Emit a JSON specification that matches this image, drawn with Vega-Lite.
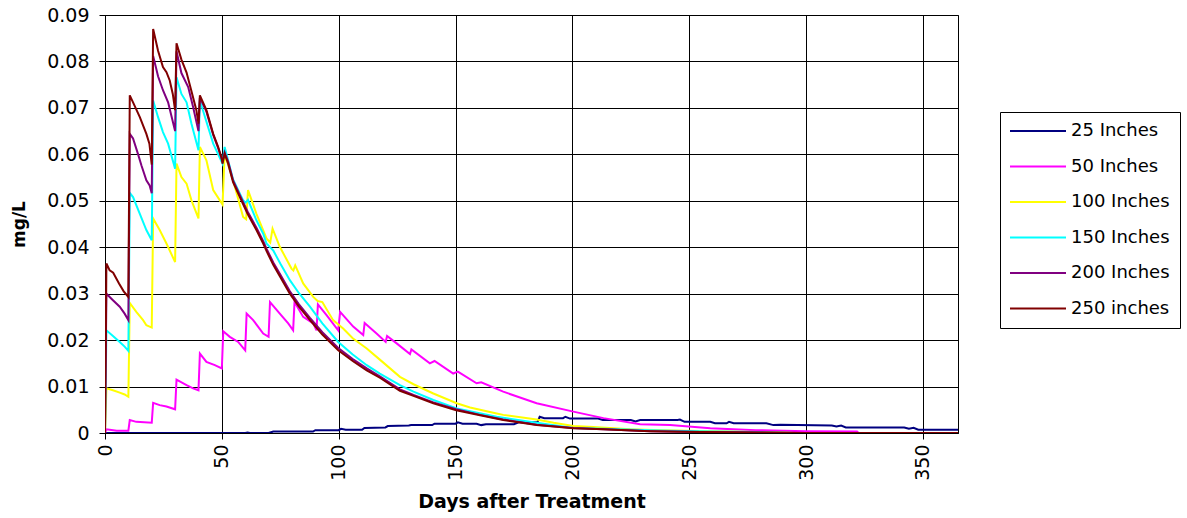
{
  "$schema": "https://vega.github.io/schema/vega-lite/v6.json",
  "width": 853,
  "height": 418,
  "autosize": "none",
  "padding": {"left": 105, "top": 15, "right": 229, "bottom": 85},
  "background": "white",
  "config": {"font": "DejaVu Sans", "view": {"stroke": "#000", "strokeWidth": 1}},
  "data": {"values": [
    {"s":"25 Inches","d":0,"v":0},{"s":"25 Inches","d":60,"v":0},{"s":"25 Inches","d":61,"v":0.0001},{"s":"25 Inches","d":62,"v":0},{"s":"25 Inches","d":70,"v":0},{"s":"25 Inches","d":72,"v":0.0003},{"s":"25 Inches","d":89,"v":0.0003},{"s":"25 Inches","d":90,"v":0.0006},{"s":"25 Inches","d":100,"v":0.0006},{"s":"25 Inches","d":101,"v":0.0009},{"s":"25 Inches","d":103,"v":0.0007},{"s":"25 Inches","d":110,"v":0.0007},{"s":"25 Inches","d":111,"v":0.0011},{"s":"25 Inches","d":120,"v":0.0012},{"s":"25 Inches","d":121,"v":0.0015},{"s":"25 Inches","d":130,"v":0.0016},{"s":"25 Inches","d":131,"v":0.0017},{"s":"25 Inches","d":140,"v":0.0017},{"s":"25 Inches","d":141,"v":0.002},{"s":"25 Inches","d":150,"v":0.002},{"s":"25 Inches","d":151,"v":0.0023},{"s":"25 Inches","d":153,"v":0.002},{"s":"25 Inches","d":159,"v":0.002},{"s":"25 Inches","d":161,"v":0.0017},{"s":"25 Inches","d":163,"v":0.0019},{"s":"25 Inches","d":175,"v":0.0019},{"s":"25 Inches","d":177,"v":0.0023},{"s":"25 Inches","d":185,"v":0.0023},{"s":"25 Inches","d":186,"v":0.0035},{"s":"25 Inches","d":188,"v":0.0032},{"s":"25 Inches","d":196,"v":0.0032},{"s":"25 Inches","d":197,"v":0.0035},{"s":"25 Inches","d":199,"v":0.0031},{"s":"25 Inches","d":211,"v":0.0031},{"s":"25 Inches","d":213,"v":0.0028},{"s":"25 Inches","d":225,"v":0.0028},{"s":"25 Inches","d":227,"v":0.0025},{"s":"25 Inches","d":229,"v":0.0028},{"s":"25 Inches","d":245,"v":0.0028},{"s":"25 Inches","d":246,"v":0.0029},{"s":"25 Inches","d":248,"v":0.0024},{"s":"25 Inches","d":259,"v":0.0024},{"s":"25 Inches","d":261,"v":0.0021},{"s":"25 Inches","d":266,"v":0.0021},{"s":"25 Inches","d":267,"v":0.0024},{"s":"25 Inches","d":269,"v":0.0021},{"s":"25 Inches","d":283,"v":0.0021},{"s":"25 Inches","d":286,"v":0.0017},{"s":"25 Inches","d":289,"v":0.0018},{"s":"25 Inches","d":311,"v":0.0016},{"s":"25 Inches","d":313,"v":0.0014},{"s":"25 Inches","d":315,"v":0.0016},{"s":"25 Inches","d":317,"v":0.0012},{"s":"25 Inches","d":342,"v":0.0012},{"s":"25 Inches","d":344,"v":0.0009},{"s":"25 Inches","d":346,"v":0.0011},{"s":"25 Inches","d":348,"v":0.0007},{"s":"25 Inches","d":365,"v":0.0007},

    {"s":"50 Inches","d":0,"v":0},{"s":"50 Inches","d":0.6,"v":0.0008},{"s":"50 Inches","d":2,"v":0.0007},{"s":"50 Inches","d":5,"v":0.0005},{"s":"50 Inches","d":10,"v":0.0005},
    {"s":"50 Inches","d":10.6,"v":0.0028},{"s":"50 Inches","d":13.4,"v":0.0024},{"s":"50 Inches","d":20,"v":0.0022},
    {"s":"50 Inches","d":20.6,"v":0.0065},{"s":"50 Inches","d":23.4,"v":0.006},{"s":"50 Inches","d":26.3,"v":0.0057},{"s":"50 Inches","d":30,"v":0.0051},
    {"s":"50 Inches","d":30.6,"v":0.0115},{"s":"50 Inches","d":34.9,"v":0.0103},{"s":"50 Inches","d":37.7,"v":0.0096},{"s":"50 Inches","d":40,"v":0.0092},
    {"s":"50 Inches","d":40.6,"v":0.0171},{"s":"50 Inches","d":43.4,"v":0.0153},{"s":"50 Inches","d":47,"v":0.0146},{"s":"50 Inches","d":50,"v":0.0139},
    {"s":"50 Inches","d":50.6,"v":0.0219},{"s":"50 Inches","d":53.4,"v":0.0207},{"s":"50 Inches","d":57,"v":0.0196},{"s":"50 Inches","d":60,"v":0.0178},
    {"s":"50 Inches","d":60.6,"v":0.0257},{"s":"50 Inches","d":63.4,"v":0.0243},{"s":"50 Inches","d":67.7,"v":0.0214},{"s":"50 Inches","d":70,"v":0.0207},
    {"s":"50 Inches","d":70.6,"v":0.0282},{"s":"50 Inches","d":74.8,"v":0.0257},{"s":"50 Inches","d":78.4,"v":0.0236},{"s":"50 Inches","d":80.5,"v":0.0221},
    {"s":"50 Inches","d":81.1,"v":0.0282},{"s":"50 Inches","d":84.8,"v":0.025},{"s":"50 Inches","d":89.1,"v":0.0236},{"s":"50 Inches","d":90.5,"v":0.0221},
    {"s":"50 Inches","d":91.1,"v":0.0277},{"s":"50 Inches","d":94.8,"v":0.0254},{"s":"50 Inches","d":99.8,"v":0.0221},
    {"s":"50 Inches","d":100.6,"v":0.0261},{"s":"50 Inches","d":106.2,"v":0.0229},{"s":"50 Inches","d":110.5,"v":0.0211},
    {"s":"50 Inches","d":111.1,"v":0.0237},{"s":"50 Inches","d":116.2,"v":0.0214},{"s":"50 Inches","d":120.1,"v":0.0196},
    {"s":"50 Inches","d":120.7,"v":0.0209},{"s":"50 Inches","d":124.8,"v":0.0193},{"s":"50 Inches","d":130.5,"v":0.017},
    {"s":"50 Inches","d":131.1,"v":0.018},{"s":"50 Inches","d":139,"v":0.015},{"s":"50 Inches","d":141,"v":0.0155},{"s":"50 Inches","d":149,"v":0.0128},{"s":"50 Inches","d":151,"v":0.0132},{"s":"50 Inches","d":159,"v":0.0107},{"s":"50 Inches","d":161,"v":0.0109},{"s":"50 Inches","d":170.4,"v":0.0089},{"s":"50 Inches","d":184.7,"v":0.0064},{"s":"50 Inches","d":200.4,"v":0.0046},{"s":"50 Inches","d":213.3,"v":0.0032},{"s":"50 Inches","d":229,"v":0.0019},{"s":"50 Inches","d":241.8,"v":0.0017},{"s":"50 Inches","d":259,"v":0.001},{"s":"50 Inches","d":278.5,"v":0.0006},{"s":"50 Inches","d":300,"v":0.0004},{"s":"50 Inches","d":321.8,"v":0.0003},{"s":"50 Inches","d":322.5,"v":0},{"s":"50 Inches","d":365,"v":0},

    {"s":"100 Inches","d":0,"v":0},{"s":"100 Inches","d":0.6,"v":0.0096},{"s":"100 Inches","d":3.4,"v":0.0092},{"s":"100 Inches","d":6.3,"v":0.0087},{"s":"100 Inches","d":8.4,"v":0.0083},{"s":"100 Inches","d":10,"v":0.0078},
    {"s":"100 Inches","d":10.6,"v":0.028},{"s":"100 Inches","d":13.4,"v":0.0261},{"s":"100 Inches","d":16.3,"v":0.0243},{"s":"100 Inches","d":17.7,"v":0.0232},{"s":"100 Inches","d":20,"v":0.0227},
    {"s":"100 Inches","d":20.6,"v":0.0462},{"s":"100 Inches","d":23.4,"v":0.0437},{"s":"100 Inches","d":26.3,"v":0.0408},{"s":"100 Inches","d":30,"v":0.0368},
    {"s":"100 Inches","d":30.6,"v":0.058},{"s":"100 Inches","d":32.7,"v":0.0551},{"s":"100 Inches","d":34.9,"v":0.0537},{"s":"100 Inches","d":37,"v":0.0501},{"s":"100 Inches","d":40,"v":0.0462},
    {"s":"100 Inches","d":40.6,"v":0.0616},{"s":"100 Inches","d":43.4,"v":0.0587},{"s":"100 Inches","d":46.3,"v":0.0523},{"s":"100 Inches","d":50.3,"v":0.0492},
    {"s":"100 Inches","d":51.2,"v":0.0601},{"s":"100 Inches","d":54.8,"v":0.0544},{"s":"100 Inches","d":59.1,"v":0.0465},{"s":"100 Inches","d":60.4,"v":0.046},
    {"s":"100 Inches","d":61.2,"v":0.0523},{"s":"100 Inches","d":64.8,"v":0.0472},{"s":"100 Inches","d":69.1,"v":0.0419},{"s":"100 Inches","d":70.7,"v":0.041},
    {"s":"100 Inches","d":71.7,"v":0.044},{"s":"100 Inches","d":74.8,"v":0.0401},{"s":"100 Inches","d":79.8,"v":0.0354},{"s":"100 Inches","d":80.6,"v":0.035},
    {"s":"100 Inches","d":81.4,"v":0.0361},{"s":"100 Inches","d":84.8,"v":0.0322},{"s":"100 Inches","d":89.1,"v":0.0293},{"s":"100 Inches","d":91,"v":0.0284},{"s":"100 Inches","d":93,"v":0.0282},{"s":"100 Inches","d":97.6,"v":0.0243},{"s":"100 Inches","d":101.9,"v":0.0225},{"s":"100 Inches","d":106,"v":0.0204},{"s":"100 Inches","d":112,"v":0.0182},{"s":"100 Inches","d":117.6,"v":0.0158},{"s":"100 Inches","d":126.2,"v":0.0121},{"s":"100 Inches","d":132,"v":0.0105},{"s":"100 Inches","d":140.5,"v":0.0085},{"s":"100 Inches","d":150.5,"v":0.0064},{"s":"100 Inches","d":156.2,"v":0.0055},{"s":"100 Inches","d":167.6,"v":0.0042},{"s":"100 Inches","d":170.4,"v":0.0039},{"s":"100 Inches","d":184.7,"v":0.0029},{"s":"100 Inches","d":192,"v":0.0022},{"s":"100 Inches","d":200.4,"v":0.0015},{"s":"100 Inches","d":209,"v":0.0013},{"s":"100 Inches","d":224.7,"v":0.0008},{"s":"100 Inches","d":238,"v":0.0006},{"s":"100 Inches","d":260,"v":0.0004},{"s":"100 Inches","d":280,"v":0.0002},{"s":"100 Inches","d":290,"v":0.0001},{"s":"100 Inches","d":295,"v":0},{"s":"100 Inches","d":365,"v":0},

    {"s":"150 Inches","d":0,"v":0},{"s":"150 Inches","d":0.6,"v":0.0221},{"s":"150 Inches","d":3.4,"v":0.0209},{"s":"150 Inches","d":6.3,"v":0.0196},{"s":"150 Inches","d":8.4,"v":0.0186},{"s":"150 Inches","d":10,"v":0.0177},
    {"s":"150 Inches","d":10.6,"v":0.0517},{"s":"150 Inches","d":12,"v":0.0508},{"s":"150 Inches","d":14.9,"v":0.0472},{"s":"150 Inches","d":17.7,"v":0.0437},{"s":"150 Inches","d":20,"v":0.0415},
    {"s":"150 Inches","d":20.6,"v":0.0716},{"s":"150 Inches","d":22.7,"v":0.068},{"s":"150 Inches","d":24.8,"v":0.0648},{"s":"150 Inches","d":27,"v":0.0623},{"s":"150 Inches","d":30,"v":0.0569},
    {"s":"150 Inches","d":30.6,"v":0.0766},{"s":"150 Inches","d":32.7,"v":0.073},{"s":"150 Inches","d":34.9,"v":0.0712},{"s":"150 Inches","d":37,"v":0.0666},{"s":"150 Inches","d":40,"v":0.0609},
    {"s":"150 Inches","d":40.6,"v":0.0716},{"s":"150 Inches","d":44.1,"v":0.0659},{"s":"150 Inches","d":46.3,"v":0.0623},{"s":"150 Inches","d":50.3,"v":0.058},
    {"s":"150 Inches","d":51.2,"v":0.0616},{"s":"150 Inches","d":54.8,"v":0.0546},{"s":"150 Inches","d":59.1,"v":0.0501},{"s":"150 Inches","d":60.2,"v":0.0496},{"s":"150 Inches","d":61.2,"v":0.0502},{"s":"150 Inches","d":64.8,"v":0.0458},{"s":"150 Inches","d":67.7,"v":0.0429},{"s":"150 Inches","d":69.1,"v":0.0408},{"s":"150 Inches","d":71,"v":0.0398},{"s":"150 Inches","d":72,"v":0.0393},{"s":"150 Inches","d":75,"v":0.0365},{"s":"150 Inches","d":79.1,"v":0.0329},{"s":"150 Inches","d":83,"v":0.0301},{"s":"150 Inches","d":87.7,"v":0.0272},{"s":"150 Inches","d":93,"v":0.0236},{"s":"150 Inches","d":99.8,"v":0.0196},{"s":"150 Inches","d":106,"v":0.0169},{"s":"150 Inches","d":112,"v":0.0146},{"s":"150 Inches","d":117.6,"v":0.0128},{"s":"150 Inches","d":126.2,"v":0.0103},{"s":"150 Inches","d":132,"v":0.0089},{"s":"150 Inches","d":140.5,"v":0.0071},{"s":"150 Inches","d":150.5,"v":0.0053},{"s":"150 Inches","d":156.2,"v":0.0047},{"s":"150 Inches","d":167.6,"v":0.0035},{"s":"150 Inches","d":184.7,"v":0.0022},{"s":"150 Inches","d":200.4,"v":0.0011},{"s":"150 Inches","d":213.3,"v":0.0009},{"s":"150 Inches","d":233.3,"v":0.0006},{"s":"150 Inches","d":242,"v":0.0005},{"s":"150 Inches","d":260,"v":0.0003},{"s":"150 Inches","d":279,"v":0.0002},{"s":"150 Inches","d":285,"v":0.0001},{"s":"150 Inches","d":295,"v":0},{"s":"150 Inches","d":365,"v":0},

    {"s":"200 Inches","d":0,"v":0},{"s":"200 Inches","d":0.6,"v":0.03},{"s":"200 Inches","d":3.4,"v":0.0286},{"s":"200 Inches","d":6.3,"v":0.0272},{"s":"200 Inches","d":8.4,"v":0.0257},{"s":"200 Inches","d":10,"v":0.0243},
    {"s":"200 Inches","d":10.6,"v":0.0644},{"s":"200 Inches","d":12,"v":0.0634},{"s":"200 Inches","d":14.1,"v":0.0601},{"s":"200 Inches","d":15.6,"v":0.0576},{"s":"200 Inches","d":17.7,"v":0.0544},{"s":"200 Inches","d":19.1,"v":0.0533},{"s":"200 Inches","d":20,"v":0.0516},
    {"s":"200 Inches","d":20.6,"v":0.0812},{"s":"200 Inches","d":22.7,"v":0.0768},{"s":"200 Inches","d":24.8,"v":0.0738},{"s":"200 Inches","d":27,"v":0.0712},{"s":"200 Inches","d":30,"v":0.065},
    {"s":"200 Inches","d":30.6,"v":0.0822},{"s":"200 Inches","d":32.7,"v":0.0775},{"s":"200 Inches","d":35.6,"v":0.0745},{"s":"200 Inches","d":37.7,"v":0.0702},{"s":"200 Inches","d":40,"v":0.065},
    {"s":"200 Inches","d":40.6,"v":0.0722},{"s":"200 Inches","d":43.4,"v":0.0692},{"s":"200 Inches","d":46.3,"v":0.0642},{"s":"200 Inches","d":48.4,"v":0.0614},{"s":"200 Inches","d":50.3,"v":0.0585},
    {"s":"200 Inches","d":51.2,"v":0.0604},{"s":"200 Inches","d":52.7,"v":0.0584},{"s":"200 Inches","d":54.8,"v":0.0544},{"s":"200 Inches","d":57.7,"v":0.0512},{"s":"200 Inches","d":61,"v":0.0477},{"s":"200 Inches","d":64.8,"v":0.0442},{"s":"200 Inches","d":67.7,"v":0.0413},{"s":"200 Inches","d":69.1,"v":0.0397},{"s":"200 Inches","d":72,"v":0.0367},{"s":"200 Inches","d":75,"v":0.0341},{"s":"200 Inches","d":79.1,"v":0.0305},{"s":"200 Inches","d":83,"v":0.0277},{"s":"200 Inches","d":87.7,"v":0.0248},{"s":"200 Inches","d":93,"v":0.0217},{"s":"200 Inches","d":99.8,"v":0.0183},{"s":"200 Inches","d":106,"v":0.0159},{"s":"200 Inches","d":112,"v":0.0139},{"s":"200 Inches","d":117.6,"v":0.0122},{"s":"200 Inches","d":126.2,"v":0.0094},{"s":"200 Inches","d":132,"v":0.0082},{"s":"200 Inches","d":140.5,"v":0.0066},{"s":"200 Inches","d":150.3,"v":0.0051},{"s":"200 Inches","d":160.5,"v":0.0039},{"s":"200 Inches","d":170.4,"v":0.0029},{"s":"200 Inches","d":184.7,"v":0.0018},{"s":"200 Inches","d":200.4,"v":0.0011},{"s":"200 Inches","d":213.3,"v":0.0008},{"s":"200 Inches","d":233.3,"v":0.0004},{"s":"200 Inches","d":255,"v":0.0002},{"s":"200 Inches","d":280,"v":0.0001},{"s":"200 Inches","d":300,"v":0},{"s":"200 Inches","d":365,"v":0},

    {"s":"250 inches","d":0,"v":0},{"s":"250 inches","d":0.6,"v":0.0365},{"s":"250 inches","d":2,"v":0.035},{"s":"250 inches","d":3.5,"v":0.0345},{"s":"250 inches","d":6,"v":0.0322},{"s":"250 inches","d":8,"v":0.0305},{"s":"250 inches","d":10,"v":0.0293},
    {"s":"250 inches","d":10.6,"v":0.0727},{"s":"250 inches","d":12,"v":0.0712},{"s":"250 inches","d":14.9,"v":0.068},{"s":"250 inches","d":17.7,"v":0.0644},{"s":"250 inches","d":19,"v":0.0623},{"s":"250 inches","d":20,"v":0.0578},
    {"s":"250 inches","d":20.6,"v":0.087},{"s":"250 inches","d":22.7,"v":0.0823},{"s":"250 inches","d":24.8,"v":0.0788},{"s":"250 inches","d":26.3,"v":0.0777},{"s":"250 inches","d":27.7,"v":0.0759},{"s":"250 inches","d":29,"v":0.073},{"s":"250 inches","d":30,"v":0.0695},
    {"s":"250 inches","d":30.6,"v":0.0839},{"s":"250 inches","d":32.7,"v":0.0804},{"s":"250 inches","d":34.9,"v":0.0776},{"s":"250 inches","d":37,"v":0.0736},{"s":"250 inches","d":39.1,"v":0.0695},{"s":"250 inches","d":40,"v":0.0666},
    {"s":"250 inches","d":40.6,"v":0.0727},{"s":"250 inches","d":43.4,"v":0.0695},{"s":"250 inches","d":46.3,"v":0.0644},{"s":"250 inches","d":48.4,"v":0.0616},{"s":"250 inches","d":49.8,"v":0.0594},{"s":"250 inches","d":50.3,"v":0.058},
    {"s":"250 inches","d":51.2,"v":0.0601},{"s":"250 inches","d":52.7,"v":0.058},{"s":"250 inches","d":54.8,"v":0.054},{"s":"250 inches","d":57.7,"v":0.0508},{"s":"250 inches","d":61,"v":0.0472},{"s":"250 inches","d":64.8,"v":0.0437},{"s":"250 inches","d":67.7,"v":0.0408},{"s":"250 inches","d":69.1,"v":0.0392},{"s":"250 inches","d":72,"v":0.0362},{"s":"250 inches","d":75,"v":0.0336},{"s":"250 inches","d":79.1,"v":0.03},{"s":"250 inches","d":83,"v":0.0272},{"s":"250 inches","d":87.7,"v":0.0243},{"s":"250 inches","d":93,"v":0.0212},{"s":"250 inches","d":99.8,"v":0.0178},{"s":"250 inches","d":106,"v":0.0155},{"s":"250 inches","d":112,"v":0.0135},{"s":"250 inches","d":117.6,"v":0.0119},{"s":"250 inches","d":126.2,"v":0.0091},{"s":"250 inches","d":132,"v":0.008},{"s":"250 inches","d":140.5,"v":0.0064},{"s":"250 inches","d":150.3,"v":0.0049},{"s":"250 inches","d":160.5,"v":0.0038},{"s":"250 inches","d":170.4,"v":0.0028},{"s":"250 inches","d":184.7,"v":0.0017},{"s":"250 inches","d":200.4,"v":0.001},{"s":"250 inches","d":213.3,"v":0.0008},{"s":"250 inches","d":233.3,"v":0.0004},{"s":"250 inches","d":255,"v":0.0002},{"s":"250 inches","d":280,"v":0.0001},{"s":"250 inches","d":300,"v":0},{"s":"250 inches","d":365,"v":0}
  ]},
  "mark": {"type": "line", "strokeWidth": 2, "clip": true},
  "encoding": {
    "x": {
      "field": "d", "type": "quantitative",
      "scale": {"domain": [0, 365], "nice": false, "zero": false},
      "axis": {
        "values": [0, 50, 100, 150, 200, 250, 300, 350],
        "title": "Days after Treatment",
        "labelAngle": -90, "labelFontSize": 19, "labelColor": "#000", "labelPadding": 5,
        "labelFlush": false, "labelOverlap": false,
        "tickColor": "#000", "tickSize": 6, "domainColor": "#000",
        "grid": true, "gridColor": "#000", "gridOpacity": 1, "gridWidth": 1,
        "titleFontSize": 19, "titleFontWeight": "bold", "titleColor": "#000", "titlePadding": 12
      }
    },
    "y": {
      "field": "v", "type": "quantitative",
      "scale": {"domain": [0, 0.09], "nice": false},
      "axis": {
        "values": [0, 0.01, 0.02, 0.03, 0.04, 0.05, 0.06, 0.07, 0.08, 0.09],
        "format": ".2~f",
        "title": "mg/L",
        "labelFontSize": 19, "labelColor": "#000", "labelPadding": 10,
        "labelFlush": false, "labelOverlap": false,
        "tickColor": "#000", "tickSize": 6, "domainColor": "#000",
        "grid": true, "gridColor": "#000", "gridOpacity": 1, "gridWidth": 1,
        "titleFontSize": 17, "titleFontWeight": "bold", "titleColor": "#000", "titlePadding": 18
      }
    },
    "color": {
      "field": "s", "type": "nominal",
      "scale": {
        "domain": ["25 Inches", "50 Inches", "100 Inches", "150 Inches", "200 Inches", "250 inches"],
        "range": ["#000080", "#FF00FF", "#FFFF00", "#00FFFF", "#800080", "#800000"]
      },
      "legend": {
        "title": null, "orient": "none", "legendX": 895, "legendY": 97,
        "strokeColor": "#000", "fillColor": "#fff", "padding": 10, "cornerRadius": 0,
        "symbolType": "M-4,0L4,0", "symbolSize": 196, "symbolStrokeWidth": 2, "symbolOffset": 19,
        "labelOffset": 24, "labelFontSize": 18, "labelColor": "#000", "labelLimit": 0,
        "rowPadding": 17.5
      }
    }
  }
}
